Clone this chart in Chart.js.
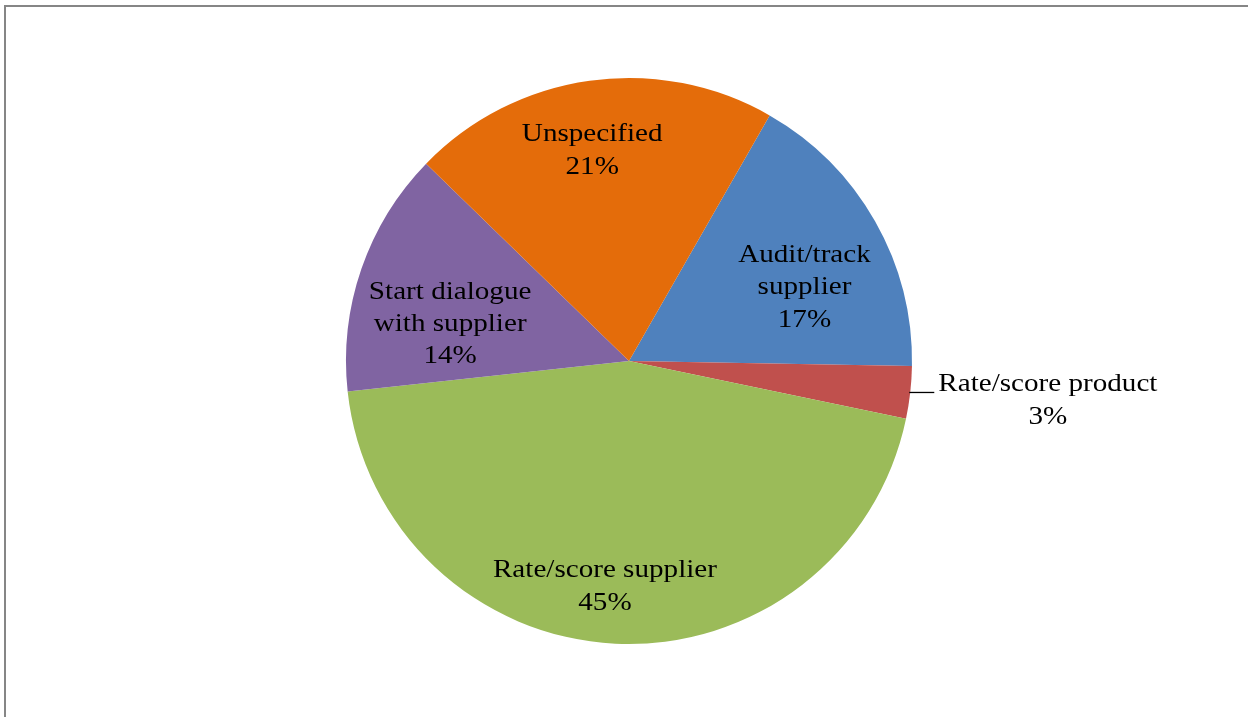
<!DOCTYPE html>
<html>
<head>
<meta charset="utf-8">
<script src="https://cdn.jsdelivr.net/npm/chart.js@4"></script>
<style>
  html, body { margin: 0; padding: 0; background: #fff; }
  #wrap { position: relative; width: 1248px; height: 717px; overflow: hidden; }
  #frame { position: absolute; left: 4px; top: 5px; width: 1300px; height: 800px;
           border-left: 2px solid #868686; border-top: 2px solid #868686; box-sizing: border-box; }
  canvas { position: absolute; left: 0; top: 0; }
</style>
</head>
<body>
<div id="wrap">
  <div id="frame"></div>
  <canvas id="c" width="1248" height="717"></canvas>
</div>
<script>
const categories = ["Audit/track supplier", "Rate/score product", "Rate/score supplier", "Start dialogue with supplier", "Unspecified"];
const labelLines = [["Audit/track", "supplier"], ["Rate/score product"], ["Rate/score supplier"], ["Start dialogue", "with supplier"], ["Unspecified"]];
const values = [17, 3, 45, 14, 21];
const percentLabels = ["17%", "3%", "45%", "14%", "21%"];
const colors = ["#4F81BD", "#C0504D", "#9BBB59", "#8064A2", "#E46C0A"];

// label placement relative to pie centre, in units of radius
const labelOffsets = [[0.62, -0.26], [1.48, 0.14], [-0.085, 0.797], [-0.632, -0.13], [-0.13, -0.743]];
const FONT = '26px "Liberation Serif", serif';
const STRETCH = 1.12;
const LINE_H = 32.3;

const labelPlugin = {
  id: 'pieLabels',
  afterDatasetsDraw(chart) {
    const ctx = chart.ctx;
    const meta = chart.getDatasetMeta(0);
    ctx.save();
    ctx.font = FONT;
    ctx.fillStyle = '#000';
    ctx.textAlign = 'center';
    ctx.textBaseline = 'middle';
    meta.data.forEach((arc, i) => {
      const cx = arc.x, cy = arc.y, r = arc.outerRadius;
      const lx = cx + labelOffsets[i][0] * r;
      const ly = cy + labelOffsets[i][1] * r;
      const lines = labelLines[i].concat([percentLabels[i]]);
      const top = ly - (lines.length - 1) * LINE_H / 2;
      lines.forEach((t, k) => {
        ctx.save();
        ctx.translate(lx, top + k * LINE_H);
        ctx.scale(STRETCH, 1);
        ctx.fillText(t, 0, 0);
        ctx.restore();
      });
      if (i === 1) {
        // leader line from arc edge to label
        const w = ctx.measureText(lines[0]).width * STRETCH;
        const yLine = top + 8;
        const ex = cx + Math.sqrt(r * r - (yLine - cy) * (yLine - cy));
        ctx.strokeStyle = '#000';
        ctx.lineWidth = 1.3;
        ctx.beginPath();
        ctx.moveTo(ex - 1, yLine);
        ctx.lineTo(lx - w / 2 - 4, yLine);
        ctx.stroke();
      }
    });
    ctx.restore();
  }
};

new Chart(document.getElementById('c'), {
  type: 'pie',
  data: {
    labels: categories,
    datasets: [{ data: values, backgroundColor: colors, borderWidth: 0 }]
  },
  options: {
    responsive: false,
    animation: false,
    rotation: 29.8,
    layout: { padding: { top: 78, bottom: 73, left: 346, right: 336 } },
    plugins: { legend: { display: false }, tooltip: { enabled: false } }
  },
  plugins: [labelPlugin]
});
</script>
</body>
</html>
